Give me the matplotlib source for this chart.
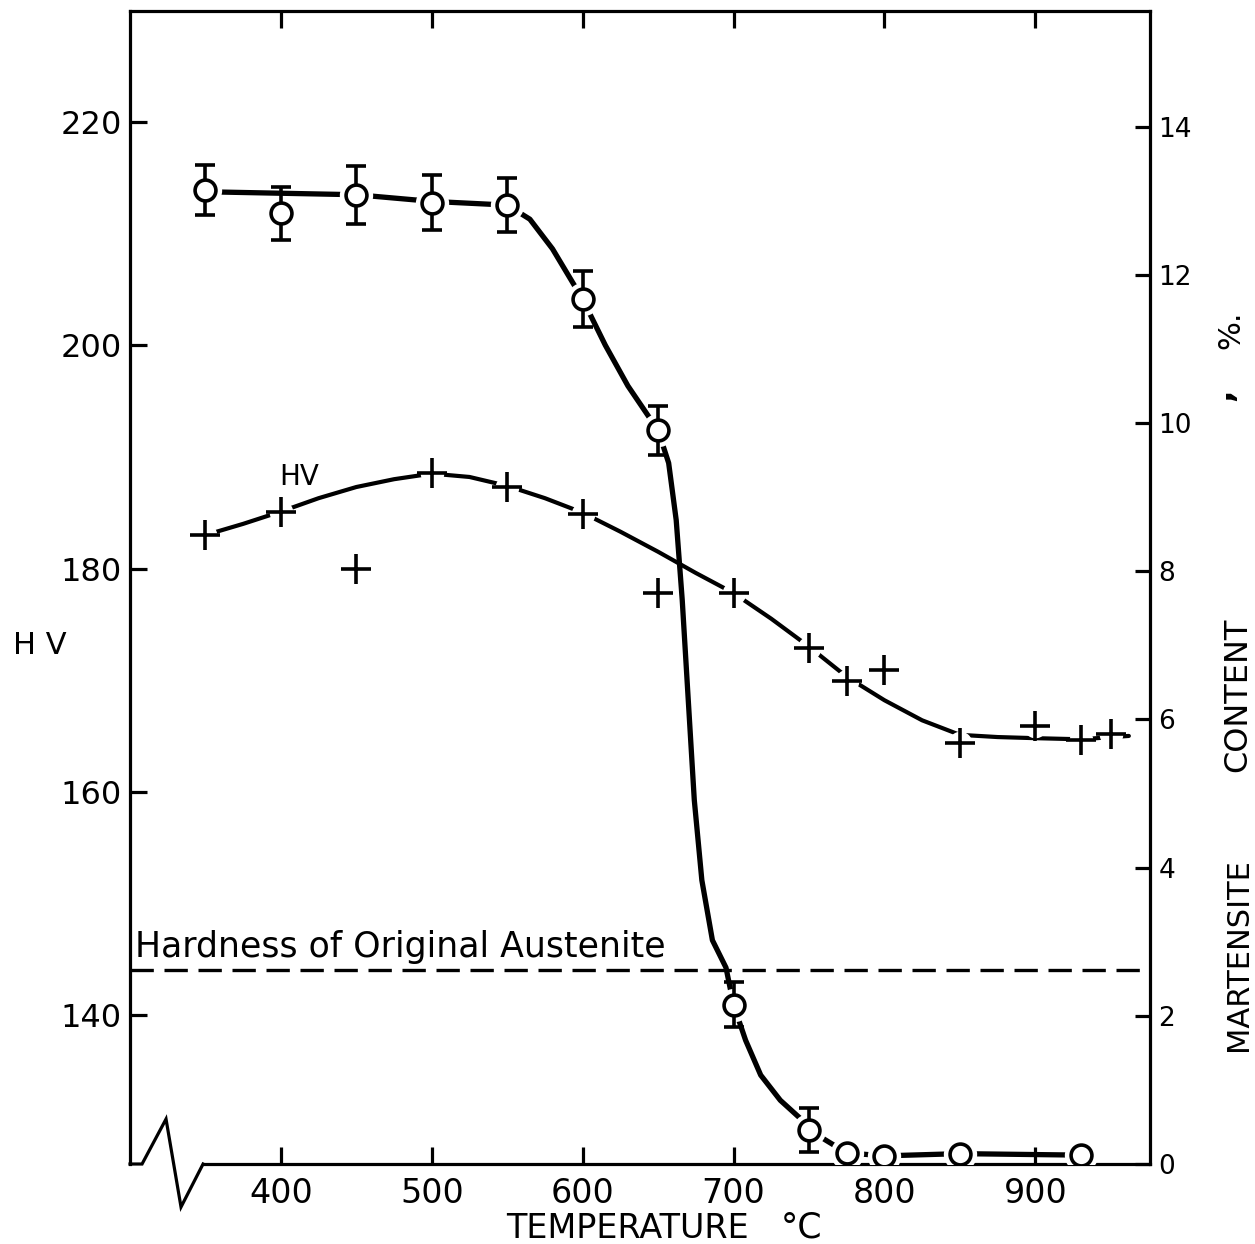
import numpy as np
import matplotlib
matplotlib.use("Agg")
import matplotlib.pyplot as plt

# hardness (HV, left axis) measured points
hv_temp = [350, 400, 450, 500, 550, 600, 650, 700, 750, 775, 800, 850, 900, 930, 950]
hv_vals = [183.0, 185.1, 180.0, 188.6, 187.3, 184.9, 177.8, 177.8, 172.9, 169.9, 170.9, 164.4, 165.9, 164.6, 165.2]

# hand-drawn HV trend curve
hv_curve_t = [350, 375, 400, 425, 450, 475, 500, 525, 550, 575, 600, 625, 650, 675,
              700, 725, 750, 775, 800, 825, 850, 875, 900, 930, 962]
hv_curve_v = [183.0, 184.0, 185.1, 186.3, 187.3, 188.0, 188.5, 188.2, 187.4, 186.3, 185.0,
              183.3, 181.5, 179.6, 177.8, 175.5, 173.0, 170.3, 168.2, 166.4, 165.1, 164.9,
              164.8, 164.7, 165.0]

# martensite content (%, right axis)
m_temp = [350, 400, 450, 500, 550, 600, 650, 700, 750, 775, 800, 850, 930]
m_vals = [13.14, 12.83, 13.08, 12.97, 12.94, 11.67, 9.90, 2.15, 0.46, 0.15, 0.11, 0.14, 0.12]
m_err = [0.34, 0.36, 0.39, 0.37, 0.36, 0.38, 0.33, 0.30, 0.30]   # first 9 points only

# hand-drawn martensite curve
m_curve_t = [350, 400, 450, 500, 550, 565, 580, 600, 615, 630, 650, 657, 662, 666, 670,
             674, 679, 686, 695, 700, 708, 718, 731, 744, 750, 775, 800, 850, 930]
m_curve_v = [13.12, 13.10, 13.08, 12.99, 12.94, 12.75, 12.35, 11.67, 11.05, 10.5, 9.90, 9.46,
             8.69, 7.61, 6.26, 4.91, 3.83, 3.02, 2.65, 2.15, 1.67, 1.20, 0.86, 0.62, 0.46,
             0.15, 0.11, 0.14, 0.12]

austenite_hv = 144.0

LW = 2.3
FS = 23

fig = plt.figure(figsize=(12.55, 12.44), dpi=100)
ax = fig.add_axes([0.1036, 0.0643, 0.8127, 0.9269])
ax2 = ax.twinx()

ax.set_xlim(300, 976)
ax.set_ylim(126.65, 229.95)
ax2.set_ylim(0, 15.56)

# HV curve + crosses
ax.plot(hv_curve_t, hv_curve_v, color='black', lw=3.0, zorder=2, solid_capstyle='round')
ax.plot(hv_temp, hv_vals, ls='none', marker='o', ms=17, mfc='white', mec='none', zorder=3)
ax.plot(hv_temp, hv_vals, ls='none', marker='+', ms=21, mew=2.6, color='black', zorder=4)
ax.text(412, 188.2, 'HV', fontsize=20, ha='center', va='center')

# austenite line
ax.axhline(austenite_hv, color='black', lw=2.4, ls=(0, (7, 3.2)), zorder=2)
ax.text(303, austenite_hv + 0.6, 'Hardness of Original Austenite', fontsize=25,
        ha='left', va='bottom')

# martensite curve + circles
ax2.plot(m_curve_t, m_curve_v, color='black', lw=3.8, zorder=2, solid_capstyle='round')
ax2.plot(m_temp, m_vals, ls='none', marker='o', ms=24, mfc='white', mec='none', zorder=3)
n_err = len(m_err)
ax2.errorbar(m_temp[:n_err], m_vals[:n_err], yerr=m_err, fmt='o', ms=15, mfc='white',
             mec='black', mew=2.6, ecolor='black', elinewidth=2.6, capsize=7, capthick=2.8,
             zorder=4)
ax2.plot(m_temp[n_err:], m_vals[n_err:], ls='none', marker='o', ms=15, mfc='white',
         mec='black', mew=2.6, zorder=4)

# axes styling
for s in ['left', 'top', 'bottom']:
    ax.spines[s].set_linewidth(LW)
ax.spines['right'].set_visible(False)
for s in ['left', 'top', 'bottom']:
    ax2.spines[s].set_visible(False)
ax2.spines['right'].set_linewidth(LW)
ax.spines['bottom'].set_bounds(349, 976)

# broken-axis zigzag at lower left
ax.plot([0, 0.0118, 0.0353, 0.05, 0.0716], [0, 0, 0.039, -0.0373, 0],
        transform=ax.transAxes, color='black', lw=LW, clip_on=False,
        solid_joinstyle='miter')

ax.set_xticks([400, 500, 600, 700, 800, 900])
ax.set_yticks([140, 160, 180, 200, 220])
ax2.set_yticks([0, 2, 4, 6, 8, 10, 12, 14])
ax.tick_params(axis='x', direction='in', length=12, width=LW, labelsize=24, pad=9, top=True)
ax.tick_params(axis='y', direction='in', length=12, width=LW, labelsize=FS, pad=6)
ax2.tick_params(axis='y', direction='in', length=11, width=LW, labelsize=19, pad=6)

fig.text(0.032, 1 - 645 / 1244, 'H V', fontsize=22, ha='center', va='center')
fig.text(627 / 1255, 1 - 1228 / 1244, 'TEMPERATURE', fontsize=24, ha='center', va='center')
fig.text(802 / 1255, 1 - 1228 / 1244, '\u00b0C', fontsize=25, ha='center', va='center')

# right axis label, pieces spread out like the original lettering
xr = 1238 / 1255
fig.text(xr, 1 - 955 / 1244, 'MARTENSITE', fontsize=22, rotation=90, ha='center', va='center')
fig.text(xr, 1 - 695 / 1244, 'CONTENT', fontsize=23, rotation=90, ha='center', va='center')
fig.text(xr - 0.013, 1 - 395 / 1244, ',', fontsize=24, fontweight='bold', rotation=90,
         ha='center', va='center')
fig.text(xr - 0.006, 1 - 330 / 1244, '%.', fontsize=22, rotation=90, ha='center', va='center')

fig.savefig('out.png', dpi=100, facecolor='white')
